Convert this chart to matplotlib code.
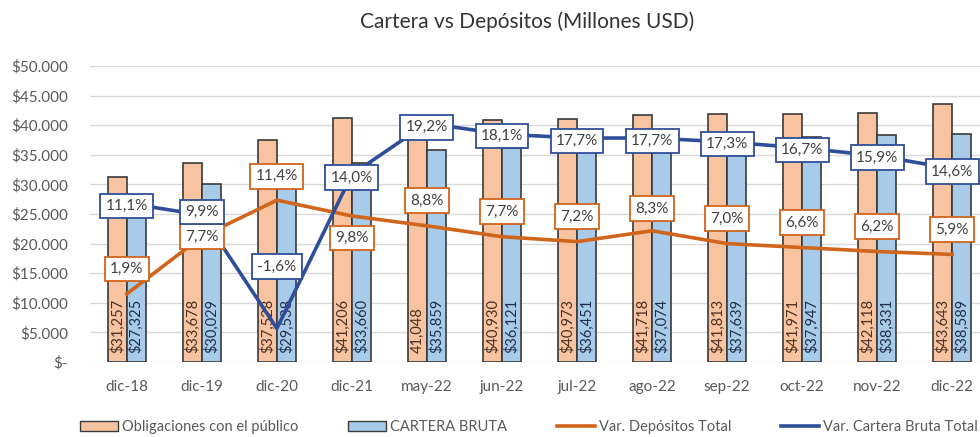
import matplotlib
matplotlib.use("Agg")
import matplotlib.pyplot as plt
import numpy as np
from matplotlib.patches import Patch
from matplotlib.lines import Line2D

plt.rcParams['font.family'] = ['Lato', 'DejaVu Sans']

categories = ["dic-18", "dic-19", "dic-20", "dic-21", "may-22", "jun-22",
              "jul-22", "ago-22", "sep-22", "oct-22", "nov-22", "dic-22"]
obligaciones = [31257, 33678, 37528, 41206, 41048, 40930, 40973, 41718, 41813, 41971, 42118, 43643]
cartera = [27325, 30029, 29538, 33660, 35859, 36121, 36451, 37074, 37639, 37947, 38331, 38589]
obligaciones_labels = ["$31,257", "$33,678", "$37,528", "$41,206", "41,048", "$40,930",
                       "$40,973", "$41,718", "$41,813", "$41,971", "$42,118", "$43,643"]
cartera_labels = ["$27,325", "$30,029", "$29,538", "$33,660", "$35,859", "$36,121",
                  "$36,451", "$37,074", "$37,639", "$37,947", "$38,331", "$38,589"]
var_depositos = [1.9, 7.7, 11.4, 9.8, 8.8, 7.7, 7.2, 8.3, 7.0, 6.6, 6.2, 5.9]
var_cartera = [11.1, 9.9, -1.6, 14.0, 19.2, 18.1, 17.7, 17.7, 17.3, 16.7, 15.9, 14.6]
y_ticks = [0, 5000, 10000, 15000, 20000, 25000, 30000, 35000, 40000, 45000, 50000]
y_tick_labels = ["$-", "$5.000", "$10.000", "$15.000", "$20.000", "$25.000",
                 "$30.000", "$35.000", "$40.000", "$45.000", "$50.000"]

c_orange_bar = "#F7C3A0"
c_blue_bar = "#A8CBEA"
c_orange_line = "#D0651C"
c_blue_line = "#2F4E99"
c_text = "#595959"

W, H = 980, 437
fig = plt.figure(figsize=(W / 100, H / 100), dpi=100)
ax_left, ax_right, ax_top, ax_bottom = 90, 989, 66, 362
ax = fig.add_axes([ax_left / W, 1 - ax_bottom / H, (ax_right - ax_left) / W, (ax_bottom - ax_top) / H])

x = np.arange(len(categories))
bw = 0.25
ax.bar(x - bw / 2, obligaciones, bw, color=c_orange_bar, edgecolor="#3a3a3a", linewidth=1.2, zorder=2)
ax.bar(x + bw / 2, cartera, bw, color=c_blue_bar, edgecolor="#3a3a3a", linewidth=1.2, zorder=2)

for xi, lab in zip(x - bw / 2, obligaciones_labels):
    ax.annotate(lab, (xi, 0), xytext=(0, 9), textcoords="offset pixels", rotation=90,
                ha="center", va="bottom", fontsize=10.5, color="#4a3020", zorder=3)
for xi, lab in zip(x + bw / 2, cartera_labels):
    ax.annotate(lab, (xi, 0), xytext=(0, 9), textcoords="offset pixels", rotation=90,
                ha="center", va="bottom", fontsize=10.5, color="#1f2f47", zorder=3)

ax.set_ylim(0, 50000)
ax.set_xlim(-0.49, len(categories) - 0.51)
ax.set_yticks(y_ticks)
ax.set_yticklabels(y_tick_labels, fontsize=11, color=c_text)
ax.set_xticks(x)
ax.set_xticklabels(categories, fontsize=11, color=c_text)
ax.tick_params(axis="x", length=0, pad=13)
ax.tick_params(axis="y", length=0, pad=16)
ax.grid(axis="y", color="#D9D9D9", linewidth=1, zorder=0)
ax.set_axisbelow(True)
for s in ax.spines.values():
    s.set_visible(False)

ax2 = ax.twinx()
ax2.set_ylim(-5, 25)
ax2.axis("off")
ax2.plot(x, var_depositos, color=c_orange_line, linewidth=2.6, zorder=4)
ax2.plot(x, var_cartera, color=c_blue_line, linewidth=2.6, zorder=4)

dep_offsets = [25, 0, 24, -22, 25, 25, 25, 22, 25, 25, 25, 25]
car_offsets = [-3, 3, 62, -3, -4, -2, -3, -3, -2, -2, -2, -3]
for xi, v, off in zip(x, var_depositos, dep_offsets):
    ax2.annotate(f"{v:.1f}%".replace(".", ","), (xi, v), xytext=(0, off), textcoords="offset pixels",
                 ha="center", va="center", fontsize=11, color="#404040", zorder=6,
                 bbox=dict(boxstyle="square,pad=0.35", fc="white", ec=c_orange_line, lw=1.3))
for xi, v, off in zip(x, var_cartera, car_offsets):
    ax2.annotate(f"{v:.1f}%".replace(".", ","), (xi, v), xytext=(0, off), textcoords="offset pixels",
                 ha="center", va="center", fontsize=11, color="#404040", zorder=6,
                 bbox=dict(boxstyle="square,pad=0.35", fc="white", ec=c_blue_line, lw=1.3))

fig.text(527 / W, 1 - 22 / H, "Cartera vs Depósitos (Millones USD)", ha="center", va="center",
         fontsize=15, color="#333333")

handles = [Patch(facecolor=c_orange_bar, edgecolor="#3a3a3a", lw=1.0),
           Patch(facecolor=c_blue_bar, edgecolor="#3a3a3a", lw=1.0),
           Line2D([0], [0], color=c_orange_line, lw=2.6),
           Line2D([0], [0], color=c_blue_line, lw=2.6)]
labels = ["Obligaciones con el público", "CARTERA BRUTA", "Var. Depósitos Total", "Var. Cartera Bruta Total"]
fig.legend(handles, labels, loc="center", bbox_to_anchor=(529 / W, 1 - 427 / H), ncol=4,
           frameon=False, fontsize=10.5, labelcolor=c_text, columnspacing=3.4, handlelength=2.6,
           handletextpad=0.3)

fig.savefig("out.png", dpi=100)
